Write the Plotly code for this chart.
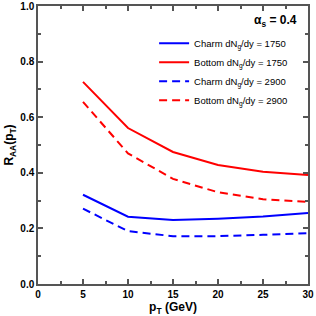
import plotly.graph_objects as go

pt = [5, 10, 15, 20, 25, 30]
charm_1750 = [0.321, 0.242, 0.230, 0.235, 0.243, 0.255]
bottom_1750 = [0.727, 0.561, 0.475, 0.428, 0.404, 0.392]
charm_2900 = [0.271, 0.190, 0.172, 0.172, 0.177, 0.183]
bottom_2900 = [0.655, 0.470, 0.378, 0.330, 0.305, 0.295]

names = ["Charm dN<sub>g</sub>/dy = 1750", "Bottom dN<sub>g</sub>/dy = 1750",
         "Charm dN<sub>g</sub>/dy = 2900", "Bottom dN<sub>g</sub>/dy = 2900"]
series = [charm_1750, bottom_1750, charm_2900, bottom_2900]
colors = ["#0000ff", "#ff0000", "#0000ff", "#ff0000"]
dashes = ["solid", "solid", "8px,5px", "8px,5px"]

fig = go.Figure()
for n, s, c, d in zip(names, series, colors, dashes):
    fig.add_trace(go.Scatter(x=pt, y=s, mode="lines", name=n,
                             line=dict(color=c, width=2, dash=d)))

font = "Liberation Sans, Arial, Helvetica, sans-serif"
axis_common = dict(
    showgrid=False, zeroline=False, showline=True, linecolor="#555", linewidth=1.5,
    mirror="ticks", ticks="inside", ticklen=5, tickcolor="#555", tickwidth=1.5,
    tickfont=dict(family=font, size=10, color="black", weight="bold"),
    automargin=False,
)
fig.update_layout(
    width=316, height=316,
    margin=dict(l=38, r=8, t=6, b=32),
    paper_bgcolor="white", plot_bgcolor="white",
    font=dict(family=font, color="black"),
    xaxis=dict(range=[0, 30], dtick=5, minor=dict(dtick=2.5, ticks="inside", ticklen=3, tickcolor="#555"),
               title=dict(text="<b>p<sub>T</sub> (GeV)</b>", font=dict(size=12), standoff=4),
               **axis_common),
    yaxis=dict(range=[0, 1], dtick=0.2, tickformat=".1f",
               minor=dict(dtick=0.1, ticks="inside", ticklen=3, tickcolor="#555"),
               title=dict(text="<b>R<sub>AA</sub>(p<sub>T</sub>)</b>", font=dict(size=12), standoff=4),
               **axis_common),
    legend=dict(x=0.43, y=0.918, xanchor="left", yanchor="top", bgcolor="rgba(0,0,0,0)",
                font=dict(family=font, size=9.5, color="black"), tracegroupgap=0,
                itemwidth=30),
    showlegend=True,
)
fig.add_annotation(x=0.965, y=0.945, xref="paper", yref="paper", xanchor="right", yanchor="middle",
                   text="<b>α<sub>s</sub> = 0.4</b>", showarrow=False,
                   font=dict(family=font, size=12, color="black"))
fig.write_html("out.html", config={"displayModeBar": False},
               post_script="document.body.style.margin='0px';")
